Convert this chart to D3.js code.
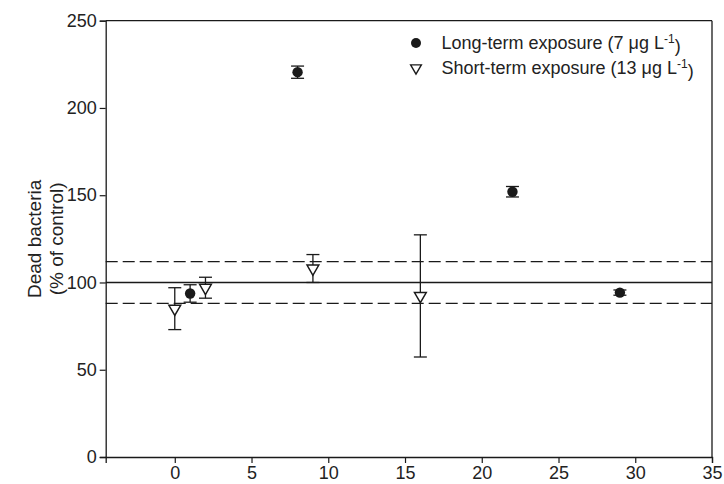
<!DOCTYPE html>
<html>
<head>
<meta charset="utf-8">
<script src="https://cdn.jsdelivr.net/npm/d3@7"></script>
<style>
  body { margin: 0; background: #fff; }
  svg text { font-family: Arial, "Liberation Sans", sans-serif; fill: #222; }
</style>
</head>
<body>
<div class="viz"></div>
<script>
// long-term exposure (7 ug/L): filled circles
const longDays = [1, 8, 22, 29];
const longMeans = [93.7, 220.5, 152, 94.2];
const longErr = [5, 3.5, 3, 1.5];

// short-term exposure (13 ug/L): open triangles
const shortDays = [0, 2, 9, 16];
const shortMeans = [85, 97, 108, 92.3];
const shortErr = [12, 6, 8, 35];

// reference lines: control 100 and +/- band
const controlLine = 100;
const bandLines = [88, 112];

const xTicks = [0, 5, 10, 15, 20, 25, 30, 35];
const yTicks = [0, 50, 100, 150, 200, 250];

const width = 724, height = 484;
const margin = {top: 20.7, right: 12, bottom: 27, left: 105.7};

const svg = d3.select('.viz').append('svg')
  .attr('width', width)
  .attr('height', height);

const x = d3.scaleLinear([-4.5, 35], [margin.left, width - margin.right]);
const y = d3.scaleLinear([0, 250], [height - margin.bottom, margin.top]);

const ink = '#1a1a1a';

// frame top / right
svg.append('line')
  .attr('x1', x(-4.5)).attr('x2', x(35))
  .attr('y1', y(250)).attr('y2', y(250))
  .attr('stroke', ink).attr('stroke-width', 1.3);
svg.append('line')
  .attr('x1', x(35)).attr('x2', x(35))
  .attr('y1', y(250)).attr('y2', y(0))
  .attr('stroke', ink).attr('stroke-width', 1.3);

const xAxis = svg.append('g')
  .attr('transform', `translate(0,${y(0)})`)
  .call(d3.axisBottom(x).tickValues(xTicks).tickSizeOuter(0).tickSize(6).tickPadding(3));
const yAxis = svg.append('g')
  .attr('transform', `translate(${x(-4.5)},0)`)
  .call(d3.axisLeft(y).tickValues(yTicks).tickSizeOuter(0).tickSize(6).tickPadding(3));

[xAxis, yAxis].forEach(g => {
  g.select('.domain').attr('stroke', ink).attr('stroke-width', 1.3);
  g.selectAll('.tick line').attr('stroke', ink).attr('stroke-width', 1.2);
  g.selectAll('.tick text').attr('fill', '#222').style('font-size', '18px');
});

// reference lines
svg.append('line')
  .attr('x1', x(-4.5)).attr('x2', x(35))
  .attr('y1', y(controlLine)).attr('y2', y(controlLine))
  .attr('stroke', ink).attr('stroke-width', 1.3);
svg.selectAll('.band').data(bandLines).join('line')
  .attr('class', 'band')
  .attr('x1', x(-4.5)).attr('x2', x(35))
  .attr('y1', d => y(d)).attr('y2', d => y(d))
  .attr('stroke', ink).attr('stroke-width', 1.3)
  .attr('stroke-dasharray', '12,5');

// error bars
const drawErr = (days, means, errs, cap) => {
  const g = svg.append('g').attr('stroke', ink).attr('stroke-width', 1.3);
  days.forEach((d, i) => {
    const cx = x(d), lo = y(means[i] - errs[i]), hi = y(means[i] + errs[i]);
    g.append('line').attr('x1', cx).attr('x2', cx).attr('y1', lo).attr('y2', hi);
    g.append('line').attr('x1', cx - cap).attr('x2', cx + cap).attr('y1', lo).attr('y2', lo);
    g.append('line').attr('x1', cx - cap).attr('x2', cx + cap).attr('y1', hi).attr('y2', hi);
  });
};
drawErr(shortDays, shortMeans, shortErr, 6.5);
drawErr(longDays, longMeans, longErr, 6.5);

const tri = d3.symbol().type(d3.symbolTriangle).size(60);

svg.append('g').selectAll('path')
  .data(shortDays)
  .join('path')
  .attr('d', tri)
  .attr('transform', (d, i) => `translate(${x(d)},${y(shortMeans[i])}) rotate(180)`)
  .attr('fill', '#fff')
  .attr('stroke', ink)
  .attr('stroke-width', 1.5);

svg.append('g').selectAll('circle')
  .data(longDays)
  .join('circle')
  .attr('cx', d => x(d))
  .attr('cy', (d, i) => y(longMeans[i]))
  .attr('r', 5.2)
  .attr('fill', ink);

// y label
const yl = svg.append('text')
  .attr('transform', `translate(41,${(y(0) + y(250)) / 2}) rotate(-90)`)
  .attr('text-anchor', 'middle')
  .style('font-size', '19px');
yl.append('tspan').attr('x', 0).attr('dy', 0).text('Dead bacteria');
yl.append('tspan').attr('x', 0).attr('dy', 22).text('(% of control)');

// legend
const legend = svg.append('g').attr('transform', 'translate(416,43)');
legend.append('circle').attr('cx', 0).attr('cy', 0).attr('r', 5).attr('fill', ink);
legend.append('path').attr('d', d3.symbol().type(d3.symbolTriangle).size(50))
  .attr('transform', 'translate(0,25) rotate(180)')
  .attr('fill', '#fff').attr('stroke', ink).attr('stroke-width', 1.4);

const lt = (yy, main, conc) => {
  const t = legend.append('text').attr('x', 25.5).attr('y', yy).attr('dy', '0.35em').style('font-size', '18px');
  t.append('tspan').text(`${main} (${conc} \u03BCg L`);
  t.append('tspan').attr('dy', '-0.5em').style('font-size', '12px').text('-1');
  t.append('tspan').attr('dy', '0.5em').text(')');
};
lt(0, 'Long-term exposure', '7');
lt(25, 'Short-term exposure', '13');
</script>
</body>
</html>
